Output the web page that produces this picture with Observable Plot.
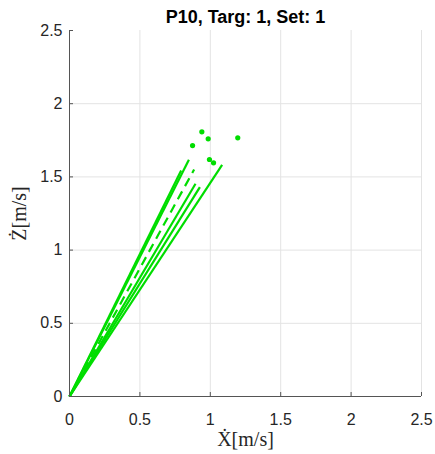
<!DOCTYPE html>
<html>
<head>
<meta charset="utf-8">
<script src="https://cdn.jsdelivr.net/npm/d3@7"></script>
<script src="https://cdn.jsdelivr.net/npm/@observablehq/plot@0.6"></script>
<style>
  body { margin: 0; background: #fff; }
</style>
</head>
<body>
<div id="chart"></div>
<script>
const titleText = "P10, Targ: 1, Set: 1";
const xLabel = "\u1E8A[m/s]";
const yLabel = "\u017B[m/s]";
const lineEndX = [0.793, 0.848, 0.885, 0.895, 0.926, 1.084];
const lineEndZ = [1.544, 1.617, 1.550, 1.453, 1.430, 1.582];
const lineDashed = [false, false, true, false, false, false];
const pointX = [0.940, 0.985, 1.195, 0.874, 0.994, 1.023];
const pointZ = [1.808, 1.760, 1.767, 1.714, 1.619, 1.596];
const xTicks = [0, 0.5, 1, 1.5, 2, 2.5];
const yTicks = [0, 0.5, 1, 1.5, 2, 2.5];

const segments = lineEndX.map((x, i) => ({x1: 0, y1: 0, x2: x, y2: lineEndZ[i], dashed: lineDashed[i]}));
const points = pointX.map((x, i) => ({x, y: pointZ[i]}));
const green = "#00dd00";
const sans = "Liberation Sans, Arial, Helvetica, sans-serif";
const serif = "Liberation Serif, DejaVu Serif, Times New Roman, serif";

const chart = Plot.plot({
  width: 435,
  height: 454,
  marginLeft: 69,
  marginRight: 14,
  marginTop: 30,
  marginBottom: 58,
  style: {fontFamily: sans, fontSize: "16px", color: "#262626", background: "#fff"},
  x: {domain: [0, 2.5]},
  y: {domain: [0, 2.5]},
  marks: [
    Plot.gridX(xTicks.slice(1), {stroke: "#e3e3e3", strokeOpacity: 1}),
    Plot.gridY(yTicks.slice(1, 5), {stroke: "#e3e3e3", strokeOpacity: 1}),
    Plot.link(segments.filter(d => !d.dashed), {x1: "x1", y1: "y1", x2: "x2", y2: "y2", stroke: green, strokeWidth: 2.2}),
    Plot.link(segments.filter(d => d.dashed), {x1: "x1", y1: "y1", x2: "x2", y2: "y2", stroke: green, strokeWidth: 2.2, strokeDasharray: "9,6"}),
    Plot.dot(points, {x: "x", y: "y", r: 2.6, fill: green, stroke: "none"}),
    Plot.ruleX([0], {stroke: "#555", strokeWidth: 1}),
    Plot.ruleY([0], {stroke: "#555", strokeWidth: 1}),
    Plot.axisX(xTicks, {tickSize: -4, tickPadding: 21, stroke: "#555", tickFormat: d => String(d), label: null, fontSize: 16, fill: "#262626"}),
    Plot.axisY(yTicks, {tickSize: -4, tickPadding: 11, stroke: "#555", tickFormat: d => String(d), label: null, fontSize: 16, fill: "#262626"}),
    Plot.text([titleText], {frameAnchor: "top", dy: -8, lineAnchor: "bottom", fontWeight: "bold", fontSize: 18, fill: "#000"}),
    Plot.text([xLabel], {frameAnchor: "bottom", dy: 49, lineAnchor: "bottom", textAnchor: "middle", fontFamily: serif, fontSize: 20, fill: "#262626"}),
    Plot.text([yLabel], {frameAnchor: "left", dx: -50, rotate: -90, textAnchor: "middle", lineAnchor: "middle", fontFamily: serif, fontSize: 20, fill: "#262626"})
  ]
});
document.getElementById("chart").appendChild(chart);
</script>
</body>
</html>
